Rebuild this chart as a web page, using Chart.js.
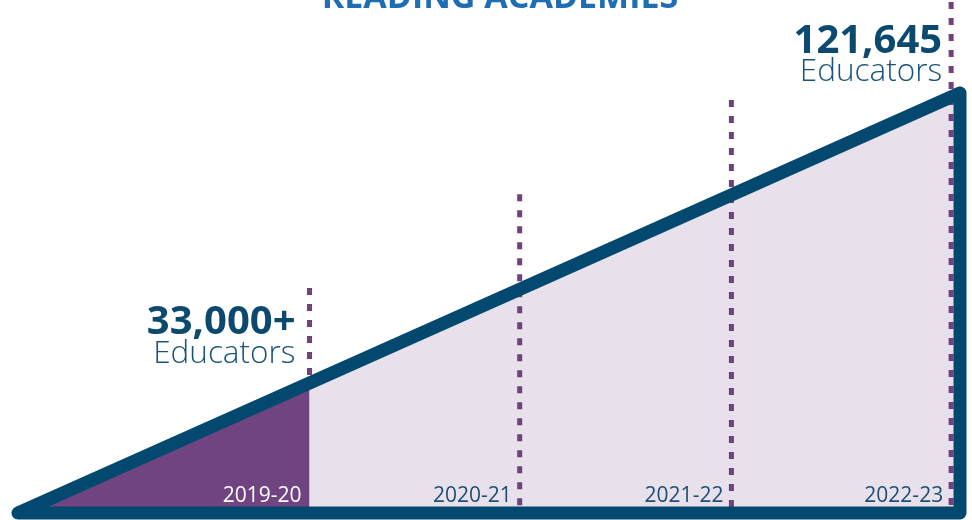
<!DOCTYPE html>
<html>
<head>
<meta charset="utf-8">
<script src="https://cdn.jsdelivr.net/npm/chart.js@4/dist/chart.umd.min.js"></script>
<style>
  html, body { margin: 0; padding: 0; background: #ffffff; }
  #wrap { position: relative; width: 972px; height: 520px; }
</style>
</head>
<body>
<div id="wrap"><canvas id="c"></canvas></div>
<script>
// ---- data ----
const title = 'READING ACADEMIES';
const categories = ['2019-20', '2020-21', '2021-22', '2022-23'];
// cumulative educators at each school-year marker (wedge height at each dotted line)
const educators = [38000, 65400, 93000, 121645];
// the wedge outline tops out just past the last marker
const wedgeEnd = 122800;
const callouts = ['33,000+', '', '', '121,645'];
const calloutUnit = 'Educators';

// ---- layout / style ----
const W = 972, H = 520;
const tipPx = 18, endPx = 960, basePx = 513, topPx = 93;
const ux = wedgeEnd / (endPx - tipPx);
const uy = wedgeEnd / (basePx - topPx);
const colors = {
  outline: '#03496f',
  purple: '#6f4480',
  lavender: '#e8e0ea',
  guide: '#71417f',
  big: '#0b4a6e',
  small: '#1a5379',
  yearDark: '#1c4f73',
  title: '#1f6db3'
};
const calloutLayout = {
  0: { dx: -14, big: -49, small: -20 },
  3: { dx: -9, big: -44, small: -16 }
};

const guidesPlugin = {
  id: 'guides',
  afterDatasetDraw(chart, args) {
    if (args.index !== 1) return;
    const { ctx, scales: { x, y } } = chart;
    ctx.save();
    ctx.strokeStyle = colors.guide;
    ctx.lineWidth = 5;
    ctx.setLineDash([7, 9]);
    educators.forEach((v, i) => {
      const gx = x.getPixelForValue(v);
      const ly = y.getPixelForValue(v);
      const bottom = i === 0 ? ly : y.getPixelForValue(0);
      ctx.beginPath();
      ctx.moveTo(gx, ly - 95);
      ctx.lineTo(gx, bottom);
      ctx.stroke();
    });
    ctx.restore();
  },
  afterDatasetsDraw(chart) {
    const { ctx, scales: { x, y } } = chart;
    ctx.save();
    // title (cut off at the top edge)
    ctx.fillStyle = colors.title;
    ctx.font = "bold 34px 'Open Sans'";
    ctx.textAlign = 'center';
    ctx.textBaseline = 'alphabetic';
    ctx.fillText(title, 500, 8);

    // year labels
    ctx.font = "21px 'Open Sans'";
    ctx.textAlign = 'right';
    categories.forEach((c, i) => {
      const gx = x.getPixelForValue(educators[i]);
      ctx.fillStyle = i === 0 ? '#ffffff' : colors.yearDark;
      ctx.fillText(c, gx - 8, 502);
    });

    // callouts
    callouts.forEach((t, i) => {
      if (!t) return;
      const L = calloutLayout[i];
      const gx = x.getPixelForValue(educators[i]);
      const ly = y.getPixelForValue(educators[i]);
      ctx.textAlign = 'right';
      ctx.fillStyle = colors.big;
      ctx.font = "bold 40px 'Open Sans'";
      ctx.fillText(t, gx + L.dx, ly + L.big);
      ctx.fillStyle = colors.small;
      ctx.font = "300 31.5px 'Open Sans'";
      ctx.fillText(calloutUnit, gx + L.dx, ly + L.small);
    });
    ctx.restore();
  }
};

new Chart(document.getElementById('c'), {
  type: 'line',
  data: {
    datasets: [
      {
        label: 'outline',
        data: [{ x: 0, y: 0 }, { x: wedgeEnd, y: wedgeEnd }, { x: wedgeEnd, y: 0 }, { x: 0, y: 0 }],
        borderColor: colors.outline,
        borderWidth: 13,
        borderJoinStyle: 'round',
        borderCapStyle: 'round',
        fill: false,
        pointRadius: 0,
        tension: 0,
        clip: false,
        order: 0
      },
      {
        label: categories[0],
        data: [{ x: 0, y: 0 }, { x: educators[0], y: educators[0] }],
        borderColor: 'rgba(0,0,0,0)',
        borderWidth: 0,
        backgroundColor: colors.purple,
        fill: 'origin',
        pointRadius: 0,
        tension: 0,
        clip: false,
        order: 1
      },
      {
        label: 'total',
        data: [{ x: 0, y: 0 }, { x: wedgeEnd, y: wedgeEnd }],
        borderColor: 'rgba(0,0,0,0)',
        borderWidth: 0,
        backgroundColor: colors.lavender,
        fill: 'origin',
        pointRadius: 0,
        tension: 0,
        clip: false,
        order: 2
      }
    ]
  },
  options: {
    responsive: true,
    maintainAspectRatio: false,
    animation: false,
    layout: { padding: 0 },
    plugins: { legend: { display: false }, tooltip: { enabled: false }, title: { display: false } },
    scales: {
      x: { type: 'linear', display: false, min: -tipPx * ux, max: (W - tipPx) * ux },
      y: { type: 'linear', display: false, min: -(H - basePx) * uy, max: basePx * uy }
    }
  },
  plugins: [guidesPlugin]
});
</script>
</body>
</html>
